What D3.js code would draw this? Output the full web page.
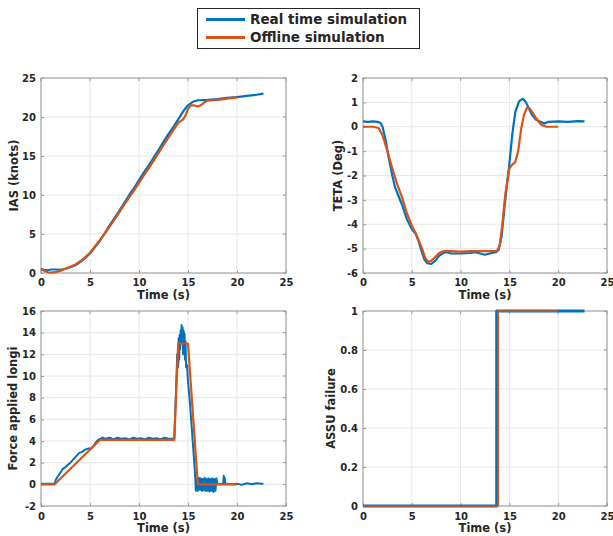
<!DOCTYPE html>
<html><head><meta charset="utf-8">
<script src="https://cdn.jsdelivr.net/npm/d3@7"></script>
<style>
body{margin:0;background:#fff}
text{font-family:"DejaVu Sans",sans-serif;font-weight:bold;fill:#262626}
</style>
</head><body>
<svg id="c" width="613" height="536"></svg>
<script>
const xTicks = [0, 5, 10, 15, 20, 25];
const seriesNames = ["Real time simulation", "Offline simulation"];
const colors = ["#0072BD", "#D95319"];

// IAS (knots)
const iasReal = [[0,0.5],[0.3,0.4],[0.7,0.35],[1,0.45],[1.5,0.45],[2,0.4],[2.5,0.55],[3,0.75],[3.5,1.0],[4,1.4],[4.5,1.9],[5,2.5],[5.5,3.3],[6,4.1],[6.45,5.0],[7,6.1],[7.5,7.05],[8,8.0],[8.5,9.0],[9,10.0],[9.5,10.9],[10,11.9],[10.5,12.9],[11,13.8],[11.5,14.8],[12,15.8],[12.5,16.8],[13,17.8],[13.5,18.7],[14,19.7],[14.5,20.7],[15,21.5],[15.5,21.95],[16,22.15],[17,22.2],[18,22.3],[19,22.45],[20,22.55],[21,22.7],[22,22.85],[22.7,23.0]];
const iasOffline = [[0,0.55],[0.3,0.3],[0.7,0.1],[1,0.05],[1.5,0.1],[2,0.3],[2.5,0.55],[3,0.8],[3.5,1.1],[4,1.5],[4.5,2.0],[5,2.6],[5.5,3.4],[6,4.2],[6.5,5.05],[7,5.95],[7.5,6.85],[8,7.8],[8.5,8.75],[9,9.7],[9.5,10.6],[10,11.55],[10.5,12.5],[11,13.45],[11.5,14.4],[12,15.4],[12.5,16.4],[13,17.35],[13.5,18.3],[13.8,18.9],[14.1,19.35],[14.5,19.7],[14.75,20.2],[15,21.0],[15.3,21.5],[15.6,21.5],[16,21.35],[16.3,21.5],[16.7,21.9],[17,22.1],[18,22.2],[19,22.35],[20,22.55]];

// TETA (Deg)
const tetaReal = [[0,0.22],[0.5,0.2],[1,0.22],[1.5,0.2],[1.8,0.15],[2,0.0],[2.3,-0.5],[2.6,-1.2],[3,-2.0],[3.3,-2.5],[3.6,-2.8],[4,-3.2],[4.5,-3.8],[5,-4.2],[5.4,-4.4],[5.7,-4.7],[6,-5.1],[6.3,-5.45],[6.6,-5.6],[7,-5.63],[7.4,-5.5],[7.8,-5.3],[8.2,-5.18],[8.6,-5.15],[9,-5.2],[10,-5.2],[11,-5.18],[11.5,-5.15],[12,-5.2],[12.5,-5.25],[13,-5.2],[13.6,-5.15],[13.9,-5.05],[14.2,-4.5],[14.5,-3.3],[14.8,-2.2],[15,-1.5],[15.3,-0.3],[15.6,0.6],[16,1.05],[16.4,1.15],[16.7,1.0],[17,0.75],[17.3,0.5],[17.7,0.3],[18.2,0.2],[18.6,0.13],[19,0.2],[20,0.22],[21,0.2],[22,0.23],[22.7,0.22]];
const tetaOffline = [[0,0.0],[1,0.0],[1.6,-0.05],[2,-0.35],[2.5,-1.0],[3,-1.7],[3.5,-2.35],[4,-2.9],[4.5,-3.55],[5,-4.05],[5.5,-4.45],[6,-4.95],[6.4,-5.4],[6.7,-5.55],[7,-5.5],[7.4,-5.35],[7.8,-5.18],[8.3,-5.1],[9,-5.1],[10,-5.12],[11,-5.1],[12,-5.1],[13,-5.1],[13.7,-5.1],[14,-4.9],[14.3,-3.9],[14.6,-2.7],[15,-1.7],[15.3,-1.55],[15.6,-1.45],[15.9,-1.0],[16.2,-0.1],[16.5,0.5],[16.8,0.78],[17.1,0.75],[17.5,0.5],[17.9,0.25],[18.3,0.07],[18.8,0.0],[19.5,0.0],[20,0.0]];

// Force applied longi
const forceReal = [[0,0.05],[0.5,0.05],[1,0.05],[1.4,0.05],[1.5,0.4],[1.7,0.7],[2,1.1],[2.2,1.4],[2.5,1.6],[2.8,1.85],[3,2.0],[3.3,2.3],[3.6,2.6],[3.9,2.9],[4.2,3.0],[4.5,3.2],[4.8,3.3],[5.1,3.3],[5.4,3.6],[5.7,4.0],[6,4.2],[6.3,4.3],[6.6,4.2],[7,4.3],[7.4,4.15],[7.8,4.3],[8.2,4.2],[8.6,4.25],[9,4.15],[9.4,4.3],[9.8,4.2],[10.2,4.25],[10.6,4.15],[11,4.3],[11.4,4.2],[11.8,4.25],[12.2,4.15],[12.6,4.3],[13,4.2],[13.4,4.2],[13.6,4.2],[13.75,8.0],[13.9,12.0],[14.0,10.8],[14.05,13.5],[14.1,11.5],[14.15,13.8],[14.2,12.5],[14.25,14.2],[14.3,13.0],[14.35,14.7],[14.4,13.2],[14.45,14.5],[14.5,12.0],[14.55,14.2],[14.6,12.8],[14.65,13.9],[14.7,11.5],[14.75,13.2],[14.8,10.8],[14.9,11.0],[15.0,9.5],[15.2,7.5],[15.4,5.0],[15.6,2.5],[15.75,0.5],[15.8,-0.6],[15.9,0.5],[16.0,-0.6],[16.1,0.6],[16.2,-0.5],[16.3,0.55],[16.4,-0.6],[16.5,0.5],[16.6,-0.55],[16.7,0.6],[16.8,-0.6],[16.9,0.5],[17.0,-0.6],[17.1,0.55],[17.2,-0.65],[17.3,0.5],[17.4,-0.6],[17.5,0.55],[17.6,-0.7],[17.7,0.5],[17.8,-0.6],[17.9,0.55],[18.0,0.05],[18.1,0.0],[18.5,0.05],[18.6,0.1],[18.65,0.8],[18.7,0.1],[18.75,0.6],[18.8,0.0],[19,0.05],[19.5,0.0],[20,0.05],[20.5,-0.05],[21,0.1],[21.5,0.0],[22,0.1],[22.5,0.05],[22.7,0.05]];
const forceOffline = [[0,0],[1.4,0],[6,4.1],[13.6,4.1],[14,13],[15,13],[16,0],[20,0]];

// ASSU failure
const assuReal = [[0,0],[13.7,0],[13.7,1],[22.7,1]];
const assuOffline = [[0,0],[13.85,0],[13.85,1],[20,1]];

const yTicksIas = [0, 5, 10, 15, 20, 25];
const yTicksTeta = [-6, -5, -4, -3, -2, -1, 0, 1, 2];
const yTicksForce = [-2, 0, 2, 4, 6, 8, 10, 12, 14, 16];
const yTicksAssu = [0, 0.2, 0.4, 0.6, 0.8, 1];

const panels = [
  {l:41, r:286, t:78, b:273, dom:[0,25], ticks:yTicksIas, label:"IAS (knots)", lx:14, real:iasReal, off:iasOffline, wr:2.2, wo:2.2, xt:286, xl:299},
  {l:363, r:607, t:78, b:273, dom:[-6,2], ticks:yTicksTeta, label:"TETA (Deg)", lx:338, real:tetaReal, off:tetaOffline, wr:2.2, wo:2.2, xt:286, xl:299},
  {l:41, r:286, t:311, b:506, dom:[-2,16], ticks:yTicksForce, label:"Force applied longi", lx:13, real:forceReal, off:forceOffline, wr:2, wo:2.2, xt:520, xl:532},
  {l:363, r:607, t:311, b:506, dom:[0,1], ticks:yTicksAssu, label:"ASSU failure", lx:331, real:assuReal, off:assuOffline, wr:3, wo:1.6, xt:520, xl:532}
];

const svg = d3.select("#c");

panels.forEach(p => {
  const x = d3.scaleLinear().domain([0,25]).range([p.l, p.r]);
  const y = d3.scaleLinear().domain(p.dom).range([p.b, p.t]);
  const g = svg.append("g");
  // grid
  g.selectAll(".gx").data(xTicks).join("line")
    .attr("x1", d=>x(d)).attr("x2", d=>x(d)).attr("y1", p.t).attr("y2", p.b)
    .attr("stroke", "#e6e6e6").attr("stroke-width", 1);
  g.selectAll(".gy").data(p.ticks).join("line")
    .attr("x1", p.l).attr("x2", p.r).attr("y1", d=>y(d)).attr("y2", d=>y(d))
    .attr("stroke", "#e6e6e6").attr("stroke-width", 1);
  // axes via d3
  const xa = g.append("g").attr("transform", `translate(0,${p.b})`)
    .call(d3.axisBottom(x).tickValues(xTicks).tickSize(-3).tickPadding(0).tickFormat(d3.format("d")));
  xa.select(".domain").remove();
  xa.selectAll("line").attr("stroke", "#999");
  xa.selectAll("text").attr("y", null).attr("dy", null)
    .attr("transform", `translate(0,${p.xt - p.b})`)
    .style("font-size", "10px").style("font-family", "'DejaVu Sans',sans-serif").style("font-weight","bold").attr("fill", "#262626");
  const ya = g.append("g").attr("transform", `translate(${p.l},0)`)
    .call(d3.axisLeft(y).tickValues(p.ticks).tickSize(-3).tickPadding(5).tickFormat(d => String(d)));
  ya.select(".domain").remove();
  ya.selectAll("line").attr("stroke", "#999");
  ya.selectAll("text").style("font-size", "10px").style("font-family", "'DejaVu Sans',sans-serif").style("font-weight","bold").attr("fill", "#262626");
  // top/right ticks
  g.selectAll(".tt").data(xTicks).join("line")
    .attr("x1", d=>x(d)).attr("x2", d=>x(d)).attr("y1", p.t).attr("y2", p.t+3).attr("stroke", "#999");
  g.selectAll(".rt").data(p.ticks).join("line")
    .attr("x1", p.r).attr("x2", p.r-3).attr("y1", d=>y(d)).attr("y2", d=>y(d)).attr("stroke", "#999");
  // frame
  g.append("rect").attr("x", p.l).attr("y", p.t).attr("width", p.r-p.l).attr("height", p.b-p.t)
    .attr("fill", "none").attr("stroke", "#999").attr("stroke-width", 1);
  // lines
  const line = d3.line().x(d=>x(d[0])).y(d=>y(d[1]));
  g.append("path").datum(p.real).attr("d", line).attr("fill","none")
    .attr("stroke", colors[0]).attr("stroke-width", p.wr).attr("stroke-linejoin","round");
  g.append("path").datum(p.off).attr("d", line).attr("fill","none")
    .attr("stroke", colors[1]).attr("stroke-width", p.wo).attr("stroke-linejoin","round");
  // labels
  g.append("text").attr("x", (p.l+p.r)/2).attr("y", p.xl).attr("text-anchor","middle")
    .style("font-size","11.5px").text("Time (s)");
  g.append("text").attr("transform", `translate(${p.lx},${(p.t+p.b)/2}) rotate(-90)`)
    .attr("dy","0.35em").attr("text-anchor","middle").style("font-size","11.5px").text(p.label);
});

// legend
const lg = svg.append("g");
lg.append("rect").attr("x",197.5).attr("y",8.5).attr("width",222).attr("height",40)
  .attr("fill","#fff").attr("stroke","#262626").attr("stroke-width",1);
seriesNames.forEach((name, i) => {
  const yy = 19.5 + i*18;
  lg.append("line").attr("x1",206).attr("x2",245).attr("y1",yy).attr("y2",yy)
    .attr("stroke", colors[i]).attr("stroke-width",3);
  lg.append("text").attr("x",250).attr("y",yy).attr("dy","0.35em")
    .style("font-size","13.5px").attr("fill","#000").text(name);
});
</script>
</body></html>
